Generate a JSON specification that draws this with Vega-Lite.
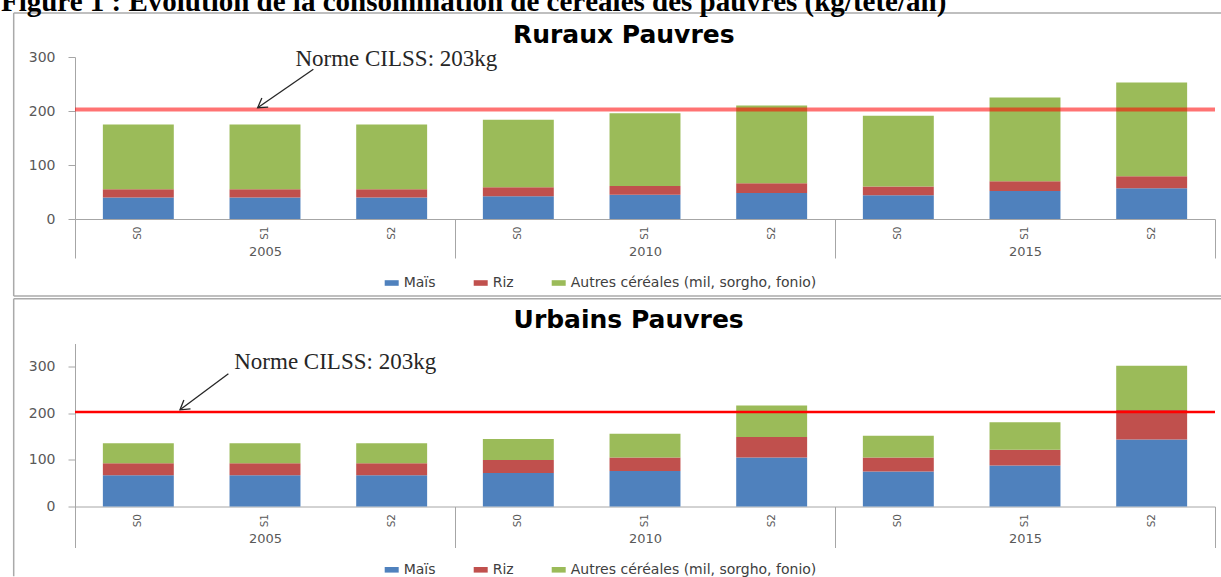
{
  "$schema": "https://vega.github.io/schema/vega-lite/v6.json",
  "background": "white",
  "padding": {"left": 0, "top": -13, "right": 0, "bottom": 0},
  "bounds": "flush",
  "spacing": 124.5,
  "title": {
    "text": "Figure 1 : Evolution de la consommation de céréales des pauvres (kg/tête/an)",
    "anchor": "start",
    "font": "Liberation Serif",
    "fontSize": 29,
    "fontWeight": "bold",
    "color": "black",
    "offset": -4.5,
    "dx": -12
  },
  "config": {
    "view": {"stroke": null},
    "axis": {"labelFont": "DejaVu Sans", "labelColor": "#595959", "grid": false}
  },
  "data": {
    "values": [
      {"zone": "Ruraux Pauvres", "annee": "2005", "periode": "2005 S0", "cereale": "Maïs", "kg": 40},
      {"zone": "Ruraux Pauvres", "annee": "2005", "periode": "2005 S0", "cereale": "Riz", "kg": 15},
      {"zone": "Ruraux Pauvres", "annee": "2005", "periode": "2005 S0", "cereale": "Autres céréales (mil, sorgho, fonio)", "kg": 120},
      {"zone": "Ruraux Pauvres", "annee": "2005", "periode": "2005 S1", "cereale": "Maïs", "kg": 40},
      {"zone": "Ruraux Pauvres", "annee": "2005", "periode": "2005 S1", "cereale": "Riz", "kg": 15},
      {"zone": "Ruraux Pauvres", "annee": "2005", "periode": "2005 S1", "cereale": "Autres céréales (mil, sorgho, fonio)", "kg": 120},
      {"zone": "Ruraux Pauvres", "annee": "2005", "periode": "2005 S2", "cereale": "Maïs", "kg": 40},
      {"zone": "Ruraux Pauvres", "annee": "2005", "periode": "2005 S2", "cereale": "Riz", "kg": 15},
      {"zone": "Ruraux Pauvres", "annee": "2005", "periode": "2005 S2", "cereale": "Autres céréales (mil, sorgho, fonio)", "kg": 120},
      {"zone": "Ruraux Pauvres", "annee": "2010", "periode": "2010 S0", "cereale": "Maïs", "kg": 42},
      {"zone": "Ruraux Pauvres", "annee": "2010", "periode": "2010 S0", "cereale": "Riz", "kg": 17},
      {"zone": "Ruraux Pauvres", "annee": "2010", "periode": "2010 S0", "cereale": "Autres céréales (mil, sorgho, fonio)", "kg": 125},
      {"zone": "Ruraux Pauvres", "annee": "2010", "periode": "2010 S1", "cereale": "Maïs", "kg": 45},
      {"zone": "Ruraux Pauvres", "annee": "2010", "periode": "2010 S1", "cereale": "Riz", "kg": 16},
      {"zone": "Ruraux Pauvres", "annee": "2010", "periode": "2010 S1", "cereale": "Autres céréales (mil, sorgho, fonio)", "kg": 135},
      {"zone": "Ruraux Pauvres", "annee": "2010", "periode": "2010 S2", "cereale": "Maïs", "kg": 48},
      {"zone": "Ruraux Pauvres", "annee": "2010", "periode": "2010 S2", "cereale": "Riz", "kg": 18},
      {"zone": "Ruraux Pauvres", "annee": "2010", "periode": "2010 S2", "cereale": "Autres céréales (mil, sorgho, fonio)", "kg": 144},
      {"zone": "Ruraux Pauvres", "annee": "2015", "periode": "2015 S0", "cereale": "Maïs", "kg": 44},
      {"zone": "Ruraux Pauvres", "annee": "2015", "periode": "2015 S0", "cereale": "Riz", "kg": 16},
      {"zone": "Ruraux Pauvres", "annee": "2015", "periode": "2015 S0", "cereale": "Autres céréales (mil, sorgho, fonio)", "kg": 131},
      {"zone": "Ruraux Pauvres", "annee": "2015", "periode": "2015 S1", "cereale": "Maïs", "kg": 52},
      {"zone": "Ruraux Pauvres", "annee": "2015", "periode": "2015 S1", "cereale": "Riz", "kg": 18},
      {"zone": "Ruraux Pauvres", "annee": "2015", "periode": "2015 S1", "cereale": "Autres céréales (mil, sorgho, fonio)", "kg": 155},
      {"zone": "Ruraux Pauvres", "annee": "2015", "periode": "2015 S2", "cereale": "Maïs", "kg": 57},
      {"zone": "Ruraux Pauvres", "annee": "2015", "periode": "2015 S2", "cereale": "Riz", "kg": 22},
      {"zone": "Ruraux Pauvres", "annee": "2015", "periode": "2015 S2", "cereale": "Autres céréales (mil, sorgho, fonio)", "kg": 174},
      {"zone": "Urbains Pauvres", "annee": "2005", "periode": "2005 S0", "cereale": "Maïs", "kg": 67},
      {"zone": "Urbains Pauvres", "annee": "2005", "periode": "2005 S0", "cereale": "Riz", "kg": 26},
      {"zone": "Urbains Pauvres", "annee": "2005", "periode": "2005 S0", "cereale": "Autres céréales (mil, sorgho, fonio)", "kg": 43},
      {"zone": "Urbains Pauvres", "annee": "2005", "periode": "2005 S1", "cereale": "Maïs", "kg": 67},
      {"zone": "Urbains Pauvres", "annee": "2005", "periode": "2005 S1", "cereale": "Riz", "kg": 26},
      {"zone": "Urbains Pauvres", "annee": "2005", "periode": "2005 S1", "cereale": "Autres céréales (mil, sorgho, fonio)", "kg": 43},
      {"zone": "Urbains Pauvres", "annee": "2005", "periode": "2005 S2", "cereale": "Maïs", "kg": 67},
      {"zone": "Urbains Pauvres", "annee": "2005", "periode": "2005 S2", "cereale": "Riz", "kg": 26},
      {"zone": "Urbains Pauvres", "annee": "2005", "periode": "2005 S2", "cereale": "Autres céréales (mil, sorgho, fonio)", "kg": 43},
      {"zone": "Urbains Pauvres", "annee": "2010", "periode": "2010 S0", "cereale": "Maïs", "kg": 72},
      {"zone": "Urbains Pauvres", "annee": "2010", "periode": "2010 S0", "cereale": "Riz", "kg": 28},
      {"zone": "Urbains Pauvres", "annee": "2010", "periode": "2010 S0", "cereale": "Autres céréales (mil, sorgho, fonio)", "kg": 45},
      {"zone": "Urbains Pauvres", "annee": "2010", "periode": "2010 S1", "cereale": "Maïs", "kg": 76},
      {"zone": "Urbains Pauvres", "annee": "2010", "periode": "2010 S1", "cereale": "Riz", "kg": 29},
      {"zone": "Urbains Pauvres", "annee": "2010", "periode": "2010 S1", "cereale": "Autres céréales (mil, sorgho, fonio)", "kg": 51},
      {"zone": "Urbains Pauvres", "annee": "2010", "periode": "2010 S2", "cereale": "Maïs", "kg": 105},
      {"zone": "Urbains Pauvres", "annee": "2010", "periode": "2010 S2", "cereale": "Riz", "kg": 44},
      {"zone": "Urbains Pauvres", "annee": "2010", "periode": "2010 S2", "cereale": "Autres céréales (mil, sorgho, fonio)", "kg": 68},
      {"zone": "Urbains Pauvres", "annee": "2015", "periode": "2015 S0", "cereale": "Maïs", "kg": 75},
      {"zone": "Urbains Pauvres", "annee": "2015", "periode": "2015 S0", "cereale": "Riz", "kg": 30},
      {"zone": "Urbains Pauvres", "annee": "2015", "periode": "2015 S0", "cereale": "Autres céréales (mil, sorgho, fonio)", "kg": 47},
      {"zone": "Urbains Pauvres", "annee": "2015", "periode": "2015 S1", "cereale": "Maïs", "kg": 88},
      {"zone": "Urbains Pauvres", "annee": "2015", "periode": "2015 S1", "cereale": "Riz", "kg": 34},
      {"zone": "Urbains Pauvres", "annee": "2015", "periode": "2015 S1", "cereale": "Autres céréales (mil, sorgho, fonio)", "kg": 59},
      {"zone": "Urbains Pauvres", "annee": "2015", "periode": "2015 S2", "cereale": "Maïs", "kg": 144},
      {"zone": "Urbains Pauvres", "annee": "2015", "periode": "2015 S2", "cereale": "Riz", "kg": 63},
      {"zone": "Urbains Pauvres", "annee": "2015", "periode": "2015 S2", "cereale": "Autres céréales (mil, sorgho, fonio)", "kg": 95}
    ]
  },
  "resolve": {
    "scale": {"x": "independent", "y": "independent", "color": "independent"},
    "axis": {"x": "independent", "y": "independent"},
    "legend": {"color": "independent"}
  },
  "vconcat": [
    {
      "width": 1140,
      "height": 162,
      "resolve": {"scale": {"x": "independent"}, "axis": {"x": "independent"}},
      "layer": [
        {
          "transform": [
            {"filter": "datum.zone === 'Ruraux Pauvres'"},
            {"calculate": "indexof(['Maïs', 'Riz', 'Autres céréales (mil, sorgho, fonio)'], datum.cereale)", "as": "rang"}
          ],
          "mark": {"type": "bar"},
          "encoding": {
            "x": {"field": "periode", "type": "nominal", "sort": null,
              "scale": {"type": "band", "paddingInner": 0.44, "paddingOuter": 0.22},
              "axis": {"orient": "bottom", "title": null, "domain": false, "ticks": false, "labelAngle": -90,
                "labelExpr": "split(datum.value, ' ')[1]", "labelPadding": 7, "labelFontSize": 10.5}},
            "y": {"field": "kg", "type": "quantitative", "stack": "zero",
              "scale": {"domain": [0, 300], "nice": false},
              "axis": {"title": null, "values": [0, 50, 100, 150, 200, 250, 300], "domainColor": "#a6a6a6", "tickColor": "#a6a6a6",
                "tickSize": 7, "labelPadding": 13, "labelFontSize": 14}},
            "order": {"field": "rang", "type": "quantitative"},
            "color": {"field": "cereale", "type": "nominal",
              "sort": ["Maïs", "Riz", "Autres céréales (mil, sorgho, fonio)"],
              "scale": {"domain": ["Maïs", "Riz", "Autres céréales (mil, sorgho, fonio)"], "range": ["#4F81BD", "#C0504D", "#9BBB59"]},
              "legend": {"orient": "none", "legendX": 309.7, "legendY": 219, "direction": "horizontal", "title": null,
                "symbolType": "M-1,-0.4H1V0.4H-1Z", "symbolSize": 196, "symbolStrokeWidth": 0, "labelLimit": 0,
                "labelFont": "DejaVu Sans", "labelFontSize": 14, "labelColor": "#404040", "labelOffset": 5, "columnPadding": 38}}
          }
        },
        {
          "transform": [{"filter": "datum.zone === 'Ruraux Pauvres'"}],
          "mark": {"type": "rule", "strokeOpacity": 0},
          "encoding": {
            "x": {"field": "annee", "type": "nominal", "sort": null,
              "scale": {"type": "band", "paddingInner": 0, "paddingOuter": 0},
              "axis": {"orient": "bottom", "title": null, "domain": true, "domainColor": "#a6a6a6", "ticks": true, "tickBand": "extent",
                "tickSize": 39, "tickColor": "#a6a6a6", "labelAngle": 0, "labelPadding": -13, "labelFontSize": 13}}
          }
        },
        {
          "data": {"values": [{}]},
          "mark": {"type": "rule", "color": "#ff0000", "strokeWidth": 4, "opacity": 0.55},
          "encoding": {"y": {"datum": 203, "type": "quantitative", "scale": {"domain": [0, 300], "nice": false}, "title": null}}
        },
        {
          "data": {"values": [{}]},
          "layer": [
            {
              "mark": {"type": "text", "font": "Liberation Serif", "fontSize": 23, "color": "#262626", "baseline": "middle", "align": "center"},
              "encoding": {
                "text": {"value": "Norme CILSS: 203kg"},
                "x": {"datum": 2.537, "type": "quantitative", "scale": {"domain": [0, 9], "nice": false, "zero": false}, "axis": null},
                "y": {"datum": 297.2, "type": "quantitative", "scale": {"domain": [0, 300], "nice": false}, "title": null}
              }
            },
            {
              "mark": {"type": "text", "font": "DejaVu Sans", "fontSize": 25, "fontWeight": "bold", "color": "black", "baseline": "alphabetic", "align": "center"},
              "encoding": {
                "text": {"value": "Ruraux Pauvres"},
                "x": {"datum": 4.332, "type": "quantitative", "scale": {"domain": [0, 9], "nice": false, "zero": false}, "axis": null},
                "y": {"datum": 325.9, "type": "quantitative", "scale": {"domain": [0, 300], "nice": false}, "title": null}
              }
            },
            {
              "mark": {"type": "rule", "color": "#262626", "strokeWidth": 1.3},
              "encoding": {
                "x": {"datum": 1.882, "type": "quantitative", "scale": {"domain": [0, 9], "nice": false, "zero": false}, "axis": null},
                "x2": {"datum": 1.442},
                "y": {"datum": 277.2, "type": "quantitative", "scale": {"domain": [0, 300], "nice": false}, "title": null},
                "y2": {"datum": 206.1}
              }
            },
            {
              "mark": {"type": "point", "shape": "M-0.55,0.9L0,0L0.55,0.9", "filled": false, "stroke": "#262626", "strokeWidth": 1.3, "size": 400, "angle": 235, "opacity": 1},
              "encoding": {
                "x": {"datum": 1.442, "type": "quantitative", "scale": {"domain": [0, 9], "nice": false, "zero": false}, "axis": null},
                "y": {"datum": 206.1, "type": "quantitative", "scale": {"domain": [0, 300], "nice": false}, "title": null}
              }
            },
            {
              "mark": {"type": "rule", "color": "#aaaaaa", "strokeWidth": 1.5},
              "encoding": {
                "x": {"datum": -0.484, "type": "quantitative", "scale": {"domain": [0, 9], "nice": false, "zero": false}, "axis": null},
                "x2": {"datum": 9.05},
                "y": {"datum": 381.5, "type": "quantitative", "scale": {"domain": [0, 300], "nice": false}, "title": null}
              }
            },
            {
              "mark": {"type": "rule", "color": "#aaaaaa", "strokeWidth": 1.5},
              "encoding": {
                "x": {"datum": -0.484, "type": "quantitative", "scale": {"domain": [0, 9], "nice": false, "zero": false}, "axis": null},
                "x2": {"datum": 9.05},
                "y": {"datum": -142.6, "type": "quantitative", "scale": {"domain": [0, 300], "nice": false}, "title": null}
              }
            },
            {
              "mark": {"type": "rule", "color": "#aaaaaa", "strokeWidth": 1.5},
              "encoding": {
                "x": {"datum": -0.484, "type": "quantitative", "scale": {"domain": [0, 9], "nice": false, "zero": false}, "axis": null},
                "y": {"datum": 381.5, "type": "quantitative", "scale": {"domain": [0, 300], "nice": false}, "title": null},
                "y2": {"datum": -142.6}
              }
            }
          ]
        }
      ]
    },
    {
      "width": 1140,
      "height": 163,
      "resolve": {"scale": {"x": "independent"}, "axis": {"x": "independent"}},
      "layer": [
        {
          "transform": [
            {"filter": "datum.zone === 'Urbains Pauvres'"},
            {"calculate": "indexof(['Maïs', 'Riz', 'Autres céréales (mil, sorgho, fonio)'], datum.cereale)", "as": "rang"}
          ],
          "mark": {"type": "bar"},
          "encoding": {
            "x": {"field": "periode", "type": "nominal", "sort": null,
              "scale": {"type": "band", "paddingInner": 0.44, "paddingOuter": 0.22},
              "axis": {"orient": "bottom", "title": null, "domain": false, "ticks": false, "labelAngle": -90,
                "labelExpr": "split(datum.value, ' ')[1]", "labelPadding": 7, "labelFontSize": 10.5}},
            "y": {"field": "kg", "type": "quantitative", "stack": "zero",
              "scale": {"domain": [0, 350], "nice": false},
              "axis": {"title": null, "values": [0, 50, 100, 150, 200, 250, 300, 350], "domainColor": "#a6a6a6", "tickColor": "#a6a6a6",
                "tickSize": 7, "labelPadding": 13, "labelFontSize": 14}},
            "order": {"field": "rang", "type": "quantitative"},
            "color": {"field": "cereale", "type": "nominal",
              "sort": ["Maïs", "Riz", "Autres céréales (mil, sorgho, fonio)"],
              "scale": {"domain": ["Maïs", "Riz", "Autres céréales (mil, sorgho, fonio)"], "range": ["#4F81BD", "#C0504D", "#9BBB59"]},
              "legend": {"orient": "none", "legendX": 309.7, "legendY": 219.3, "direction": "horizontal", "title": null,
                "symbolType": "M-1,-0.4H1V0.4H-1Z", "symbolSize": 196, "symbolStrokeWidth": 0, "labelLimit": 0,
                "labelFont": "DejaVu Sans", "labelFontSize": 14, "labelColor": "#404040", "labelOffset": 5, "columnPadding": 38}}
          }
        },
        {
          "transform": [{"filter": "datum.zone === 'Urbains Pauvres'"}],
          "mark": {"type": "rule", "strokeOpacity": 0},
          "encoding": {
            "x": {"field": "annee", "type": "nominal", "sort": null,
              "scale": {"type": "band", "paddingInner": 0, "paddingOuter": 0},
              "axis": {"orient": "bottom", "title": null, "domain": true, "domainColor": "#a6a6a6", "ticks": true, "tickBand": "extent",
                "tickSize": 41, "tickColor": "#a6a6a6", "labelAngle": 0, "labelPadding": -15, "labelFontSize": 13}}
          }
        },
        {
          "data": {"values": [{}]},
          "mark": {"type": "rule", "color": "#ff0000", "strokeWidth": 2.5},
          "encoding": {"y": {"datum": 203, "type": "quantitative", "scale": {"domain": [0, 350], "nice": false}, "title": null}}
        },
        {
          "data": {"values": [{}]},
          "layer": [
            {
              "mark": {"type": "text", "font": "Liberation Serif", "fontSize": 23, "color": "#262626", "baseline": "middle", "align": "center"},
              "encoding": {
                "text": {"value": "Norme CILSS: 203kg"},
                "x": {"datum": 2.054, "type": "quantitative", "scale": {"domain": [0, 9], "nice": false, "zero": false}, "axis": null},
                "y": {"datum": 309.6, "type": "quantitative", "scale": {"domain": [0, 350], "nice": false}, "title": null}
              }
            },
            {
              "mark": {"type": "text", "font": "DejaVu Sans", "fontSize": 25, "fontWeight": "bold", "color": "black", "baseline": "alphabetic", "align": "center"},
              "encoding": {
                "text": {"value": "Urbains Pauvres"},
                "x": {"datum": 4.371, "type": "quantitative", "scale": {"domain": [0, 9], "nice": false, "zero": false}, "axis": null},
                "y": {"datum": 383.7, "type": "quantitative", "scale": {"domain": [0, 350], "nice": false}, "title": null}
              }
            },
            {
              "mark": {"type": "rule", "color": "#262626", "strokeWidth": 1.3},
              "encoding": {
                "x": {"datum": 1.211, "type": "quantitative", "scale": {"domain": [0, 9], "nice": false, "zero": false}, "axis": null},
                "x2": {"datum": 0.829},
                "y": {"datum": 284.9, "type": "quantitative", "scale": {"domain": [0, 350], "nice": false}, "title": null},
                "y2": {"datum": 207.6}
              }
            },
            {
              "mark": {"type": "point", "shape": "M-0.55,0.9L0,0L0.55,0.9", "filled": false, "stroke": "#262626", "strokeWidth": 1.3, "size": 400, "angle": 233, "opacity": 1},
              "encoding": {
                "x": {"datum": 0.829, "type": "quantitative", "scale": {"domain": [0, 9], "nice": false, "zero": false}, "axis": null},
                "y": {"datum": 207.6, "type": "quantitative", "scale": {"domain": [0, 350], "nice": false}, "title": null}
              }
            },
            {
              "mark": {"type": "rule", "color": "#aaaaaa", "strokeWidth": 1.5},
              "encoding": {
                "x": {"datum": -0.484, "type": "quantitative", "scale": {"domain": [0, 9], "nice": false, "zero": false}, "axis": null},
                "x2": {"datum": 9.05},
                "y": {"datum": 446, "type": "quantitative", "scale": {"domain": [0, 350], "nice": false}, "title": null}
              }
            },
            {
              "mark": {"type": "rule", "color": "#aaaaaa", "strokeWidth": 1.5},
              "encoding": {
                "x": {"datum": -0.484, "type": "quantitative", "scale": {"domain": [0, 9], "nice": false, "zero": false}, "axis": null},
                "y": {"datum": 446, "type": "quantitative", "scale": {"domain": [0, 350], "nice": false}, "title": null},
                "y2": {"datum": -150}
              }
            }
          ]
        }
      ]
    }
  ]
}
